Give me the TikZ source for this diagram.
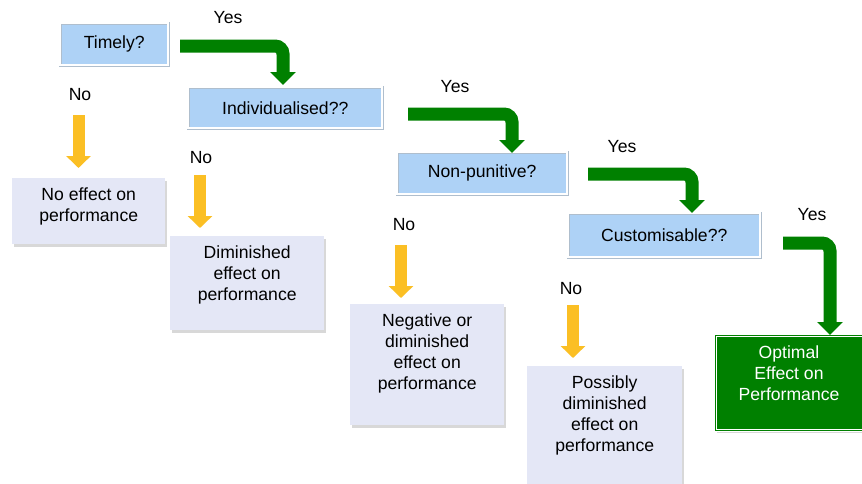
\documentclass[tikz,border=0pt]{standalone}
\usepackage{fontspec}
\setmainfont{Liberation Sans}
\usetikzlibrary{arrows.meta,shadows}
\definecolor{qblue}{RGB}{174,210,246}
\definecolor{qedge}{RGB}{175,190,205}
\definecolor{lav}{RGB}{228,231,246}
\definecolor{ggreen}{RGB}{0,128,0}
\definecolor{gold}{RGB}{251,191,36}
\tikzset{
  txt/.style={font=\fontsize{17.6}{21}\selectfont, text=black, inner sep=0pt, align=center},
  qbox/.style={draw=qedge, line width=0.5pt, double=white, double distance=2pt,
    fill=qblue, anchor=north west, inner sep=0pt, txt,
    drop shadow={shadow xshift=1pt, shadow yshift=-2pt, opacity=0.25}},
  rbox/.style={fill=lav, anchor=north west, inner sep=0pt,
    drop shadow={shadow xshift=1.5pt, shadow yshift=-2.5pt, opacity=0.3}},
  obox/.style={draw=white, line width=1pt, double=ggreen, double distance=1.5pt,
    fill=ggreen, anchor=north west, inner sep=0pt,
    drop shadow={shadow xshift=1.5pt, shadow yshift=-2.5pt, opacity=0.3}},
  garrow/.style={draw=ggreen, line width=13pt, rounded corners=8pt,
    -{Triangle[length=13pt,width=25pt]}},
  yarrow/.style={draw=gold, line width=12pt,
    -{Triangle[length=12pt,width=24pt]}},
  lbl/.style={txt},
}
\begin{document}
\begin{tikzpicture}[x=1pt,y=-1pt]
\useasboundingbox[fill=white] (0,0) rectangle (862,483);

% question boxes
\node[qbox, minimum width=108pt, minimum height=42pt] (timely) at (60,23) {Timely?};
\node[qbox, minimum width=194pt, minimum height=41pt] (indiv) at (188,87) {Individualised??};
\node[qbox, minimum width=170pt, minimum height=42pt] (nonpun) at (397,152) {Non-punitive?};
\node[qbox, minimum width=192pt, minimum height=44pt] (custom) at (568,213) {Customisable??};

% result boxes
\node[rbox, minimum width=153pt, minimum height=66pt] (noeff) at (12,178) {};
\node[rbox, minimum width=154pt, minimum height=94pt] (dimin) at (170,236) {};
\node[rbox, minimum width=154pt, minimum height=121pt] (neg) at (350,304) {};
\node[rbox, minimum width=155pt, minimum height=124pt] (poss) at (527,366) {};
\node[obox, minimum width=155pt, minimum height=95pt] (optim) at (715,335) {};

\node[txt, anchor=north] (noefft) at ([yshift=-10pt]noeff.north) {No effect on\\performance};
\node[txt, anchor=north] (dimint) at ([yshift=-10pt]dimin.north) {Diminished\\effect on\\performance};
\node[txt, anchor=north] (negt) at ([yshift=-10pt]neg.north) {Negative or\\diminished\\effect on\\performance};
\node[txt, anchor=north] (posst) at ([yshift=-10pt]poss.north) {Possibly\\diminished\\effect on\\performance};
\node[txt, anchor=north, text=white] (optimt) at ([xshift=-4pt,yshift=-11pt]optim.north) {Optimal\\Effect on\\Performance};

% Yes / No labels
\node[lbl] (yes1) at (228,18) {Yes};
\node[lbl] (yes2) at (455,87) {Yes};
\node[lbl] (yes3) at (622,147) {Yes};
\node[lbl] (yes4) at (812,215) {Yes};
\node[lbl] (no1) at (80,95) {No};
\node[lbl] (no2) at (201,158) {No};
\node[lbl] (no3) at (404,225) {No};
\node[lbl] (no4) at (571,289) {No};

% green arrows
\coordinate (g1s) at (180,46);  \coordinate (g1e) at (283,85);
\coordinate (g2s) at (408,114); \coordinate (g2e) at (512,153);
\coordinate (g3s) at (588,174); \coordinate (g3e) at (692,213);
\coordinate (g4s) at (783,243); \coordinate (g4e) at (830,335);
\draw[garrow] (g1s) -| (g1e);
\draw[garrow] (g2s) -| (g2e);
\draw[garrow] (g3s) -| (g3e);
\draw[garrow] (g4s) -| (g4e);

% yellow arrows
\coordinate (y1s) at (78.5,115); \coordinate (y1e) at (78.5,168);
\coordinate (y2s) at (200,175);  \coordinate (y2e) at (200,228);
\coordinate (y3s) at (401,245);  \coordinate (y3e) at (401,298);
\coordinate (y4s) at (573,305);  \coordinate (y4e) at (573,358);
\draw[yarrow] (y1s) -- (y1e);
\draw[yarrow] (y2s) -- (y2e);
\draw[yarrow] (y3s) -- (y3e);
\draw[yarrow] (y4s) -- (y4e);
\end{tikzpicture}
\end{document}
